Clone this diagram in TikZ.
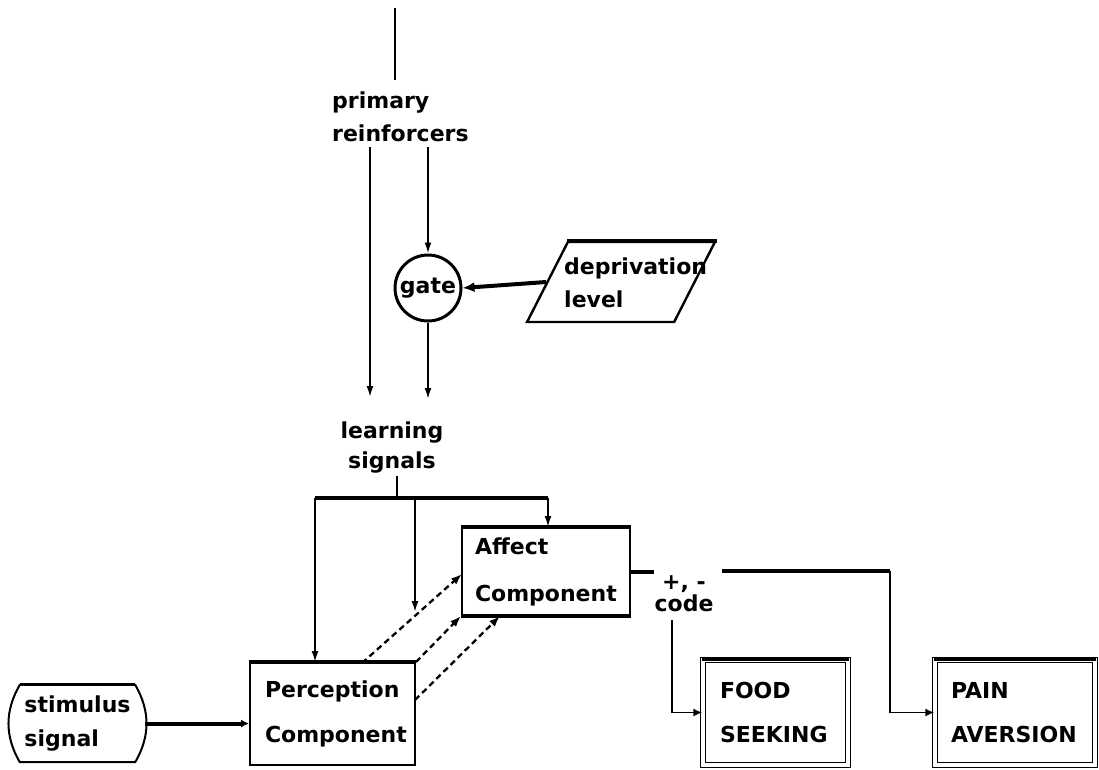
\documentclass[tikz,border=0pt]{standalone}
\usepackage{fontspec}
\setmainfont{DejaVu Sans}
\usetikzlibrary{arrows.meta,shapes.geometric}
\begin{document}
\begin{tikzpicture}[x=1pt,y=-1pt,
  lbl/.style={font=\fontsize{22}{#1}\selectfont\bfseries, inner sep=0pt},
  lbl/.default=30,
  ln/.style={line width=1.8pt},
  hv/.style={line width=4pt},
  arr/.style={ln, -{Latex[length=11pt,width=7pt]}},
  harr/.style={hv, -{Latex[length=12pt,width=10pt]}},
  dsh/.style={line width=2.3pt, dash pattern=on 6pt off 4pt, -{Latex[length=11pt,width=8pt]}},
  boxn/.style={draw, line width=2pt, rectangle, inner ysep=0pt, align=left, font=\fontsize{22}{#1}\selectfont\bfseries},
  boxn/.default=45,
  dbl/.style={double, double distance=4pt, line width=1.3pt},
]
\useasboundingbox (0,0) rectangle (1099,769);

% top
\coordinate (top) at (395,8);
\coordinate (topend) at (395,80);
\draw[ln] (top) -- (topend);
\node[lbl=33, align=left, anchor=west] (prim) at (332,117) {primary\\reinforcers};

% gate and deprivation
\node[draw, circle, line width=3pt, minimum size=66pt, lbl] (gate) at (428,288) {gate};
\node[draw, trapezium, trapezium left angle=69, trapezium right angle=111,
      trapezium stretches=true, minimum width=188pt, minimum height=80pt, line width=2.4pt] (dep) at (621,282) {};
\draw[hv] (dep.top left corner) -- (dep.top right corner);
\node[lbl=33, align=left, anchor=west] (deptxt) at (564,283) {deprivation\\level};

\coordinate (pr1) at (370,147);
\coordinate (ls1) at (370,397);
\coordinate (pr2) at (428,147);
\coordinate (ls2) at (428,399);
\draw[arr] (pr1) -- (ls1);
\draw[arr] (pr2) -- (gate.north);
\draw[arr] (gate.south) -- (ls2);
\draw[harr] (dep.west) -- (gate.east);

% learning signals
\node[lbl=30, align=center] (learn) at (392,448) {learning\\signals};
\coordinate (ls3) at (397,476);
\coordinate (bus) at (397,498);
\coordinate (busL) at (315,498);
\coordinate (busM) at (415,498);
\coordinate (busR) at (548,498);
\coordinate (mEnd) at (415,612);
\draw[ln] (ls3) -- (bus);
\draw[hv] (busL) -- (busR);

% components
\node[boxn=47, text width=142pt, inner xsep=13pt, minimum height=87pt] (aff) at (546,571.5) {Affect\\Component};
\node[boxn=45, text width=135pt, inner xsep=15pt, minimum height=102pt] (perc) at (332.5,714) {Perception\\Component};
\draw[hv] (aff.north west) -- (aff.north east);
\draw[hv] (aff.south west) -- (aff.south east);
\draw[hv] (perc.north west) -- (perc.north east);

\draw[arr] (busL) -- (busL |- perc.north);
\draw[arr] (busM) -- (mEnd);
\draw[arr] (busR) -- (busR |- aff.north);

% stimulus
\node[rectangle, minimum width=115pt, minimum height=77pt, align=left, inner sep=0pt,
      font=\fontsize{22}{34}\selectfont\bfseries] (stim) at (77.5,723.5) {stimulus\\signal};
\draw[line width=2pt] (stim.north west) -- (stim.north east)
   to[bend left=30] (stim.south east) -- (stim.south west)
   to[bend left=30] (stim.north west) -- cycle;
\draw[line width=3pt] (stim.north west) -- (stim.north east);
\coordinate (stimR) at ([xshift=10pt]stim.east);
\draw[hv, -{Latex[length=8pt,width=8pt]}] (stimR) -- (stimR -| perc.west);

% dashed links
\coordinate (d1s) at (362,663);
\coordinate (d1e) at (462,574);
\coordinate (d3s) at (415,700);
\coordinate (d3e) at (500,616);
\draw[dsh] (d1s) -- (d1e);
\draw[dsh] (perc.north east) -- (aff.south west);
\draw[dsh] (d3s) -- (d3e);

% code
\node[lbl=22, align=center] (code) at (684,594) {+, -\\code};
\coordinate (c1) at (722,571);
\coordinate (pc) at (890,571);
\coordinate (c2) at (672,620);
\draw[hv] (aff.east) -- (aff.east -| code.west);

% outputs
\node[boxn=44, dbl, text width=111pt, inner xsep=17pt, minimum height=105pt] (food) at (775.5,712.5) {FOOD\\SEEKING};
\node[boxn=44, dbl, text width=128pt, inner xsep=16pt, minimum height=105pt] (pain) at (1015,712.5) {PAIN\\AVERSION};
\draw[hv] (food.north west) -- (food.north east);
\draw[hv] (pain.north west) -- (pain.north east);

\draw[hv] (c1) -- (pc);
\draw[ln, -{Latex[length=9pt,width=8pt]}] (pc) |- (pain.west);
\draw[ln, -{Latex[length=9pt,width=8pt]}] (c2) |- (food.west);
\end{tikzpicture}
\end{document}
